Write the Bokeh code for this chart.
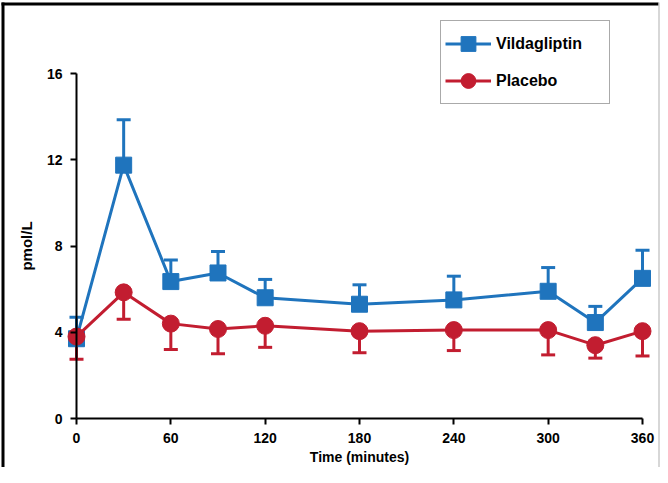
from bokeh.plotting import figure
from bokeh.models import (Range1d, FixedTicker, Legend, LegendItem, Whisker, TeeHead,
                          ColumnDataSource, LinearAxis, BoxAnnotation)
from bokeh.embed import file_html
from bokeh.resources import INLINE

# ---- data ----
time_min = [0, 30, 60, 90, 120, 180, 240, 300, 330, 360]
vildagliptin = [3.7, 11.75, 6.35, 6.75, 5.6, 5.3, 5.5, 5.9, 4.45, 6.5]
vildagliptin_sem = [1.0, 2.1, 1.0, 1.0, 0.85, 0.9, 1.1, 1.1, 0.75, 1.3]
placebo = [3.8, 5.85, 4.4, 4.15, 4.3, 4.05, 4.1, 4.1, 3.4, 4.05]
placebo_sem = [1.05, 1.25, 1.2, 1.15, 1.0, 1.0, 0.95, 1.15, 0.6, 1.15]
x_ticks = [0, 60, 120, 180, 240, 300, 360]
y_ticks = [0, 4, 8, 12, 16]
series_names = ["Vildagliptin", "Placebo"]

BLUE = "#1f74bd"
RED = "#c21d30"
FONT = "Liberation Sans"

src_v = ColumnDataSource(dict(
    t=time_min, y=vildagliptin,
    hi=[v + s for v, s in zip(vildagliptin, vildagliptin_sem)]))
src_p = ColumnDataSource(dict(
    t=time_min, y=placebo,
    lo=[v - s for v, s in zip(placebo, placebo_sem)]))

W, H = 660, 467
# the frame covers the whole canvas; axes are placed at x = 0 and y = 0
XS = 566 / 360.0      # px per minute
YS = 345 / 16.0       # px per pmol/L
x0 = -76 / XS
y0 = -(H - 418) / YS
p = figure(width=W, height=H,
           x_range=Range1d(x0, x0 + W / XS), y_range=Range1d(y0, y0 + H / YS),
           output_backend="svg", toolbar_location=None,
           x_axis_location=None, y_axis_location=None,
           min_border=0, min_border_left=0, min_border_right=0,
           min_border_top=0, min_border_bottom=0)
p.outline_line_color = None
p.xgrid.visible = False
p.ygrid.visible = False
p.background_fill_color = "white"
p.border_fill_color = "white"

# outer frame lines (left / top black, right grey)
for l, r, t, b, c in [(1, 4, 2, H, "black"), (1, W - 2, 2, 5, "black"),
                      (W - 2, W - 1, 2, H, "#b0b0b0")]:
    p.add_layout(BoxAnnotation(left=l, right=r, top=t, bottom=b,
                               left_units="canvas", right_units="canvas",
                               top_units="canvas", bottom_units="canvas",
                               fill_color=c, fill_alpha=1, line_color=None,
                               level="overlay", editable=False))

def style_axis(ax):
    ax.axis_line_width = 2
    ax.axis_line_color = "black"
    ax.major_tick_line_width = 2
    ax.major_tick_line_color = "black"
    ax.major_tick_out = 6
    ax.major_tick_in = 0
    ax.minor_tick_out = 0
    ax.minor_tick_in = 0
    ax.major_label_text_font = FONT
    ax.major_label_text_font_style = "bold"
    ax.major_label_text_font_size = "14px"
    ax.major_label_text_color = "black"
    ax.axis_label_text_font = FONT
    ax.axis_label_text_font_style = "bold"
    ax.axis_label_text_color = "black"

xa = LinearAxis(ticker=FixedTicker(ticks=x_ticks), bounds=(0, 360), fixed_location=0,
                axis_label="Time (minutes)")
style_axis(xa)
xa.major_label_standoff = 8
xa.axis_label_standoff = 3
xa.axis_label_text_font_size = "14px"
p.add_layout(xa, "below")

ya = LinearAxis(ticker=FixedTicker(ticks=y_ticks), bounds=(0, 16), fixed_location=0,
                axis_label="pmol/L")
style_axis(ya)
ya.major_label_standoff = 8
ya.axis_label_standoff = 9
ya.axis_label_text_font_size = "15px"
p.add_layout(ya, "left")

# error bars (drawn under the markers)
wv = Whisker(source=src_v, base="t", lower="y", upper="hi", dimension="height",
             line_color=BLUE, line_width=3, lower_head=None,
             upper_head=TeeHead(size=14, line_color=BLUE, line_width=3),
             level="underlay")
wp = Whisker(source=src_p, base="t", lower="lo", upper="y", dimension="height",
             line_color=RED, line_width=3, upper_head=None,
             lower_head=TeeHead(size=14, line_color=RED, line_width=3),
             level="underlay")
p.add_layout(wv)
p.add_layout(wp)

lv = p.line("t", "y", source=src_v, line_color=BLUE, line_width=3)
sv = p.scatter("t", "y", source=src_v, marker="square", size=16,
               fill_color=BLUE, line_color=BLUE)
lp = p.line("t", "y", source=src_p, line_color=RED, line_width=3)
sp = p.scatter("t", "y", source=src_p, marker="circle", size=17,
               fill_color=RED, line_color=RED)

legend = Legend(items=[LegendItem(label=series_names[0], renderers=[lv, sv]),
                       LegendItem(label=series_names[1], renderers=[lp, sp])],
                location=(440, H - 104), padding=4, spacing=0, margin=0,
                glyph_width=46, glyph_height=37, label_height=37,
                label_width=109, label_standoff=5,
                border_line_color="#555555", border_line_width=1.5,
                background_fill_color="white", background_fill_alpha=1,
                label_text_font=FONT, label_text_font_style="bold",
                label_text_font_size="16px", label_text_color="black")
p.add_layout(legend)

open("out.html", "w").write(file_html(p, INLINE))
